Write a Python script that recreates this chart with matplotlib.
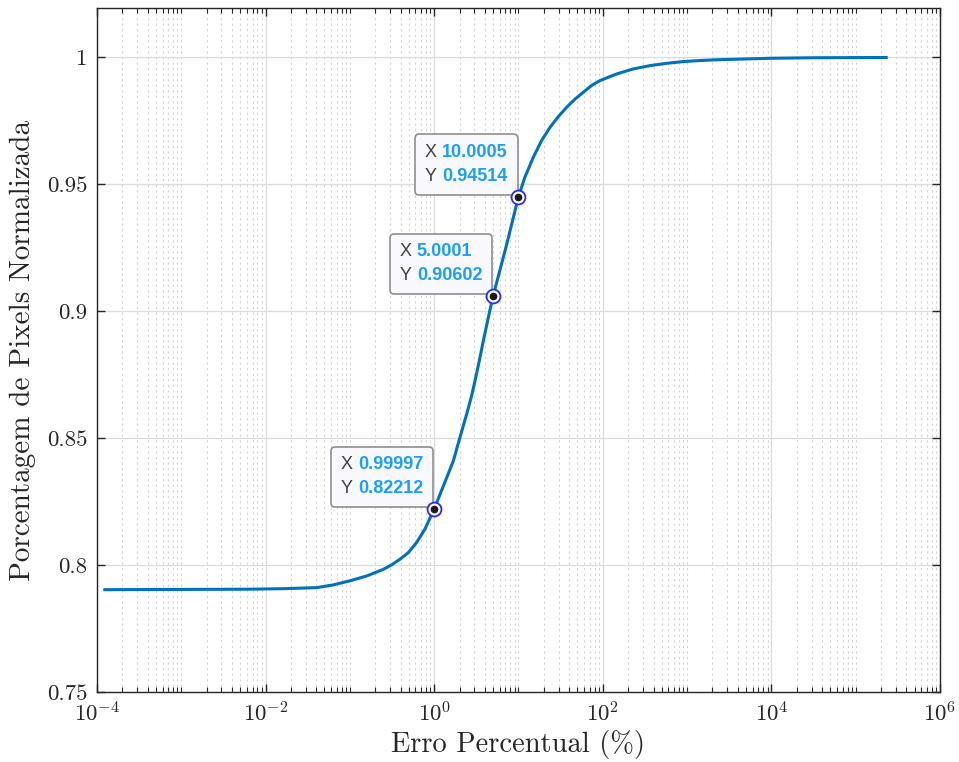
import math
import matplotlib
matplotlib.use("Agg")
import matplotlib.pyplot as plt
from matplotlib.ticker import FuncFormatter, FixedLocator, NullFormatter
from matplotlib.offsetbox import TextArea, HPacker, VPacker, AnnotationBbox

plt.rcParams['font.family'] = 'cmr10'
plt.rcParams['mathtext.fontset'] = 'cm'
plt.rcParams['axes.formatter.use_mathtext'] = True

# curve
erro = [1.24e-4, 1e-3, 6.5e-3, 0.0162, 0.0404, 0.0637, 0.1, 0.158, 0.249, 0.313,
        0.393, 0.493, 0.619, 0.778, 0.99997, 1.41, 1.69, 2.02, 2.43, 2.78, 3.05,
        3.43, 3.83, 4.39, 5.0001, 7.1, 10.0005, 11.9, 15.0, 18.8, 23.7, 29.7, 37.3,
        46.8, 58.7, 73.8, 92.7, 146.0, 230.0, 363.0, 573.0, 902.0, 1420.0, 2240.0,
        1e4, 3.2e4, 2.3e5]
pixels = [0.7903, 0.7904, 0.7905, 0.7907, 0.7911, 0.7922, 0.7938, 0.7957, 0.7983,
          0.8001, 0.8023, 0.8049, 0.8089, 0.8142, 0.82212, 0.8345, 0.8411, 0.8503,
          0.8595, 0.8667, 0.8726, 0.8805, 0.8884, 0.8976, 0.90602, 0.9252, 0.94514,
          0.9528, 0.9607, 0.9673, 0.9725, 0.9767, 0.9804, 0.9836, 0.9863, 0.9890,
          0.9909, 0.9935, 0.9955, 0.9968, 0.9977, 0.9984, 0.9988, 0.9991, 0.9997,
          0.9999, 1.0]

# data tips
tip_x = [10.0005, 5.0001, 0.99997]
tip_y = [0.94514, 0.90602, 0.82212]
tip_xlabels = ['10.0005', '5.0001', '0.99997']
tip_ylabels = ['0.94514', '0.90602', '0.82212']

x_ticks = [1e-4, 1e-2, 1e0, 1e2, 1e4, 1e6]
y_ticks = [0.75, 0.8, 0.85, 0.9, 0.95, 1.0]

fig = plt.figure(figsize=(9.59, 7.62), dpi=100)
ax = fig.add_axes([0.1011, 0.0919, 0.8791, 0.8976])

ax.plot(erro, pixels, color='#0072BD', lw=2.2, zorder=3)
ax.set_xscale('log')
ax.set_xlim(1e-4, 1e6)
ax.set_ylim(0.75, 1.0195)

# minor ticks on every 1..9 x 10^k except the labelled decades
minor = [m * 10.0 ** k for k in range(-4, 6) for m in range(1, 10)
         if not (m == 1 and k % 2 == 0)]
ax.xaxis.set_major_locator(FixedLocator(x_ticks))
ax.xaxis.set_minor_locator(FixedLocator(minor))
ax.xaxis.set_major_formatter(FuncFormatter(lambda v, p: r'$10^{%d}$' % round(math.log10(v))))
ax.xaxis.set_minor_formatter(NullFormatter())
ax.yaxis.set_major_locator(FixedLocator(y_ticks))
ax.yaxis.set_major_formatter(FuncFormatter(lambda v, p: '%g' % v))

ax.grid(which='major', color='#dcdcdc', lw=0.9, ls='-', zorder=0)
ax.grid(which='minor', axis='x', color='#d4d4d4', lw=0.8, ls=(0, (2, 3)), zorder=0)
ax.set_axisbelow(True)

for s in ax.spines.values():
    s.set_color('#262626')
    s.set_linewidth(1.0)
ax.tick_params(which='both', direction='in', top=True, right=True, colors='#262626',
               labelsize=16.5)
ax.tick_params(which='major', length=6, width=1.0, pad=7)
ax.tick_params(which='minor', length=3.5, width=0.8)

ax.set_xlabel('Erro Percentual (%)', fontsize=20.5, color='#262626', labelpad=3)
ax.set_ylabel('Porcentagem de Pixels Normalizada', fontsize=21, color='#262626', labelpad=8)

# data tip markers and boxes
for xv, yv, xl, yl in zip(tip_x, tip_y, tip_xlabels, tip_ylabels):
    ax.plot(xv, yv, 'o', ms=10, mfc='#fbfbe8', mec='#2b2bff', mew=1.3, zorder=5)
    ax.plot(xv, yv, 'o', ms=4.5, color='#1a1a1a', zorder=6)
    lab = dict(family='Liberation Sans', size=13, color='#404040')
    val = dict(family='Liberation Sans', size=13, color='#1a9fff', weight='bold')
    row1 = HPacker(children=[TextArea('X', textprops=lab), TextArea(xl, textprops=val)],
                   sep=4, pad=0, align='baseline')
    row2 = HPacker(children=[TextArea('Y', textprops=lab), TextArea(yl, textprops=val)],
                   sep=4, pad=0, align='baseline')
    box = VPacker(children=[row1, row2], sep=5, pad=0, align='left')
    ab = AnnotationBbox(box, (xv, yv), xybox=(-7.7, 8.4), xycoords='data',
                        boxcoords='offset points', box_alignment=(1, 0),
                        frameon=True, zorder=4,
                        bboxprops=dict(boxstyle='round,pad=0.7,rounding_size=0.3',
                                       fc='#f9f9fd', ec='#8f8f8f', lw=1.2))
    ax.add_artist(ab)

fig.savefig('out.png', dpi=100)
